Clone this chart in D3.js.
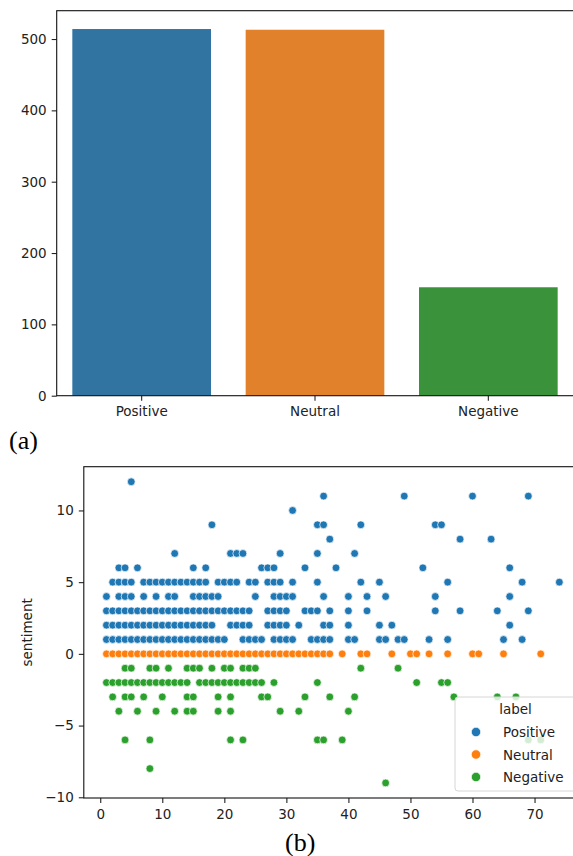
<!DOCTYPE html>
<html lang="en">
<head>
  <meta charset="UTF-8">
  <title>Sentiment label counts and scores</title>
  <script src="https://d3js.org/d3.v7.min.js"></script>
  <style>
    body { margin: 0; overflow: hidden; background: #fff; }
    svg { display: block; font-family: "DejaVu Sans", sans-serif; }
    .axis text { font-family: "DejaVu Sans", sans-serif; font-size: 13.5px; fill: #222; }
    .axis line { stroke: #222; stroke-width: 1.1; }
    .axis path { display: none; }
    .frame { fill: none; stroke: #111; stroke-width: 1.1; }
    .panel-tag { font-family: "Liberation Serif", "Times New Roman", serif; font-size: 26px; fill: #000; }
  </style>
</head>
<body>
  <div id="chart"></div>

  <script>
    // (a) number of texts per label
    const labels = ["Positive", "Neutral", "Negative"];
    const counts = [514, 513, 152];
    const barColors = ["#3274a1", "#e1812c", "#3a923a"];
    const countTicks = [0, 100, 200, 300, 400, 500];

    // (b) sentiment score against x, one row per score: [score, x values]
    const positiveRows = [
      [12, [5]],
      [11, [36, 49, 60, 69]],
      [10, [31]],
      [9, [18, 35, 36, 42, 54, 55]],
      [8, [37, 58, 63]],
      [7, [12, 21, 22, 23, 29, 35, 41]],
      [6, [3, 4, 6, 15, 17, 26, 27, 28, 33, 38, 52, 66]],
      [5, [2, 3, 4, 5, 7, 8, 9, 10, 11, 12, 13, 14, 15, 16, 17, 19, 20, 21, 22, 24, 25, 27, 28, 29, 31, 35, 42, 45, 56, 68, 74]],
      [4, [1, 3, 4, 5, 7, 9, 11, 12, 15, 16, 17, 18, 19, 25, 28, 29, 30, 31, 36, 40, 43, 46, 54, 66]],
      [3, [1, 2, 3, 4, 5, 6, 7, 8, 9, 10, 11, 12, 13, 14, 15, 16, 17, 18, 19, 20, 21, 22, 23, 24, 27, 28, 29, 30, 33, 34, 35, 37, 40, 43, 54, 58, 64, 69]],
      [2, [1, 2, 3, 4, 5, 6, 7, 8, 9, 10, 11, 12, 13, 14, 15, 16, 17, 18, 21, 22, 23, 24, 27, 28, 29, 30, 32, 36, 37, 40, 45, 47, 66]],
      [1, [1, 2, 3, 4, 5, 6, 7, 8, 9, 10, 11, 12, 13, 14, 15, 16, 17, 18, 19, 20, 23, 24, 25, 26, 28, 29, 30, 31, 34, 35, 36, 37, 40, 41, 45, 46, 48, 49, 53, 56, 65, 68]]
    ];
    const neutralRows = [
      [0, [1, 2, 3, 4, 5, 6, 7, 8, 9, 10, 11, 12, 13, 14, 15, 16, 17, 18, 19, 20, 21, 22, 23, 24, 25, 26, 27, 28, 29, 30, 31, 32, 33, 34, 35, 36, 37, 39, 42, 43, 47, 50, 51, 53, 56, 60, 61, 65, 71]]
    ];
    const negativeRows = [
      [-1, [4, 5, 8, 9, 11, 14, 15, 16, 18, 20, 21, 23, 24, 25, 42, 48]],
      [-2, [1, 2, 3, 4, 5, 6, 7, 8, 9, 10, 11, 12, 13, 14, 16, 17, 18, 19, 20, 21, 22, 23, 24, 25, 26, 28, 35, 51, 55, 56]],
      [-3, [2, 4, 5, 7, 10, 14, 15, 19, 21, 26, 27, 33, 37, 41, 57, 64, 67]],
      [-4, [3, 6, 9, 12, 14, 15, 19, 21, 29, 32, 40]],
      [-6, [4, 8, 21, 23, 35, 36, 39, 69, 71]],
      [-8, [8]],
      [-9, [46]]
    ];
    const pointColors = ["#1f77b4", "#ff7f0e", "#2ca02c"];
    const xTicks = [0, 10, 20, 30, 40, 50, 60, 70];
    const yTicks = [-10, -5, 0, 5, 10];

    const svg = d3.select("#chart")
                  .append("svg")
                  .attr("width", 573)
                  .attr("height", 856);

    // ---------- (a) bar chart ----------
    const barBox = {left: 55, right: 575, top: 10.7, bottom: 395.7};

    const xBar = d3.scaleBand()
                   .domain(labels)
                   .range([barBox.left, barBox.right])
                   .paddingInner(0.2)
                   .paddingOuter(0.1);

    const yBar = d3.scaleLinear()
                   .domain([0, d3.max(counts) * 1.05])
                   .range([barBox.bottom, barBox.top]);

    svg.append("g")
       .selectAll("rect")
       .data(labels)
       .join("rect")
       .attr("x", d => xBar(d))
       .attr("y", (d, i) => yBar(counts[i]))
       .attr("width", xBar.bandwidth())
       .attr("height", (d, i) => yBar(0) - yBar(counts[i]))
       .attr("fill", (d, i) => barColors[i]);

    svg.append("g")
       .attr("class", "axis")
       .attr("transform", `translate(${barBox.left + 1.7}, 0)`)
       .call(d3.axisLeft(yBar).tickValues(countTicks).tickSize(5).tickPadding(5));

    svg.append("g")
       .attr("class", "axis")
       .attr("transform", `translate(0, ${barBox.bottom})`)
       .call(d3.axisBottom(xBar).tickSize(5).tickPadding(6));

    svg.append("rect")
       .attr("class", "frame")
       .attr("x", barBox.left + 1.7)
       .attr("y", barBox.top)
       .attr("width", barBox.right - barBox.left)
       .attr("height", barBox.bottom - barBox.top);

    svg.append("text")
       .attr("class", "panel-tag")
       .attr("x", 9)
       .attr("y", 449)
       .text("(a)");

    // ---------- (b) scatter plot ----------
    const scatBox = {left: 83.8, right: 582, top: 466.7, bottom: 798};

    const toPoints = (rows, label) =>
      rows.flatMap(([score, xs]) => xs.map(x => ({x: x, y: score, label: label})));

    const points = [
      ...toPoints(positiveRows, "Positive"),
      ...toPoints(neutralRows, "Neutral"),
      ...toPoints(negativeRows, "Negative")
    ];

    const xPad = (d3.max(points, d => d.x) - d3.min(points, d => d.x)) * 0.05;
    const yPad = (d3.max(points, d => d.y) - d3.min(points, d => d.y)) * 0.05;

    const xs = d3.scaleLinear()
                 .domain([d3.min(points, d => d.x) - xPad, d3.max(points, d => d.x) + xPad])
                 .range([scatBox.left, scatBox.right]);

    const ys = d3.scaleLinear()
                 .domain([d3.min(points, d => d.y) - yPad, d3.max(points, d => d.y) + yPad])
                 .range([scatBox.bottom, scatBox.top]);

    const color = d3.scaleOrdinal().domain(labels).range(pointColors);

    svg.append("g")
       .selectAll("circle")
       .data(points)
       .join("circle")
       .attr("cx", d => xs(d.x))
       .attr("cy", d => ys(d.y))
       .attr("r", 3.9)
       .attr("fill", d => color(d.label))
       .attr("stroke", "#fff")
       .attr("stroke-width", 0.7);

    svg.append("g")
       .attr("class", "axis")
       .attr("transform", `translate(${scatBox.left}, 0)`)
       .call(d3.axisLeft(ys).tickValues(yTicks).tickSize(5).tickPadding(5));

    svg.append("g")
       .attr("class", "axis")
       .attr("transform", `translate(0, ${scatBox.bottom})`)
       .call(d3.axisBottom(xs).tickValues(xTicks).tickSize(5).tickPadding(6));

    svg.append("rect")
       .attr("class", "frame")
       .attr("x", scatBox.left)
       .attr("y", scatBox.top)
       .attr("width", scatBox.right - scatBox.left)
       .attr("height", scatBox.bottom - scatBox.top);

    // y axis label
    svg.append("text")
       .attr("transform", "rotate(-90)")
       .attr("x", -(scatBox.top + scatBox.bottom) / 2)
       .attr("y", 32)
       .attr("text-anchor", "middle")
       .style("font-size", "13.5px")
       .style("fill", "#222")
       .text("sentiment");

    // legend, lower right inside the axes
    const legend = svg.append("g")
                      .attr("transform", `translate(${scatBox.right - 127}, ${scatBox.bottom - 101})`);

    legend.append("rect")
          .attr("width", 121)
          .attr("height", 94)
          .attr("rx", 3)
          .attr("fill", "#fff")
          .attr("fill-opacity", 0.8)
          .attr("stroke", "#d6d6d6");

    legend.append("text")
          .attr("x", 60.5)
          .attr("y", 17)
          .attr("text-anchor", "middle")
          .style("font-size", "13.5px")
          .style("fill", "#222")
          .text("label");

    const entries = legend.selectAll(".entry")
                          .data(labels)
                          .join("g")
                          .attr("class", "entry")
                          .attr("transform", (d, i) => `translate(0, ${35 + i * 22.5})`);

    entries.append("circle")
           .attr("cx", 21)
           .attr("r", 4.7)
           .attr("fill", d => color(d))
           .attr("stroke", "#fff")
           .attr("stroke-width", 0.7);

    entries.append("text")
           .attr("x", 48)
           .attr("y", 5)
           .style("font-size", "13.5px")
           .style("fill", "#222")
           .text(d => d);

    svg.append("text")
       .attr("class", "panel-tag")
       .attr("x", 285)
       .attr("y", 851)
       .text("(b)");
  </script>
</body>
</html>
